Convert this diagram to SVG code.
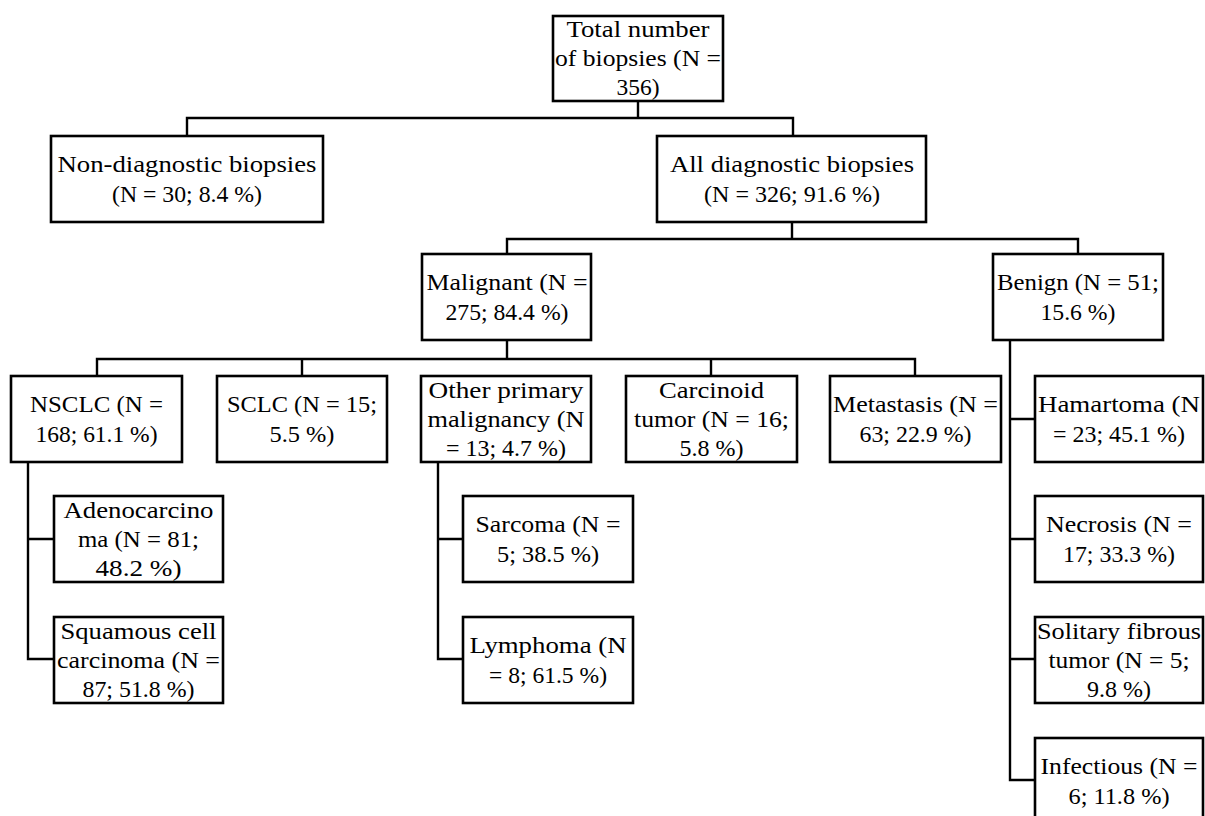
<svg xmlns="http://www.w3.org/2000/svg" width="1205" height="816" viewBox="0 0 1205 816">
<style>
.box{fill:#fff;stroke:#000;stroke-width:2.6}
.con{fill:none;stroke:#000;stroke-width:2.4}
text{font-family:"Liberation Serif","Times New Roman",serif;font-size:23px;fill:#000;text-anchor:middle}
</style>
<rect width="1205" height="816" fill="#fff"/>
<g id="connectors" class="con">
<path d="M638,101 V118 M187,136 V118 H793 V136"/>
<path d="M792,222 V239 M507,254 V239 H1078 V254"/>
<path d="M507,340 V359 M97,376 V359 H915 V376 M302,359 V376 M711,359 V376"/>
<path d="M1010,340 V780 H1035 M1010,419 H1035 M1010,539 H1035 M1010,659 H1035"/>
<path d="M28,462 V659 H54 M28,539 H54"/>
<path d="M438,462 V659 H463 M438,539 H463"/>
</g>
<g id="total"><rect class="box" x="553" y="16" width="170" height="85"/>
<text x="638" y="37" textLength="143" lengthAdjust="spacingAndGlyphs">Total number</text>
<text x="638" y="66" textLength="166" lengthAdjust="spacingAndGlyphs">of biopsies (N =</text>
<text x="638" y="95" textLength="43" lengthAdjust="spacingAndGlyphs">356)</text></g>
<g id="nondiag"><rect class="box" x="51" y="136" width="272" height="86"/>
<text x="187" y="172" textLength="259" lengthAdjust="spacingAndGlyphs">Non-diagnostic biopsies</text>
<text x="187" y="202" textLength="150" lengthAdjust="spacingAndGlyphs">(N = 30; 8.4 %)</text></g>
<g id="alldiag"><rect class="box" x="657" y="136" width="269" height="86"/>
<text x="792" y="172" textLength="244" lengthAdjust="spacingAndGlyphs">All diagnostic biopsies</text>
<text x="792" y="202" textLength="176" lengthAdjust="spacingAndGlyphs">(N = 326; 91.6 %)</text></g>
<g id="malignant"><rect class="box" x="422" y="254" width="169" height="86"/>
<text x="507" y="290" textLength="161" lengthAdjust="spacingAndGlyphs">Malignant (N =</text>
<text x="507" y="320" textLength="123" lengthAdjust="spacingAndGlyphs">275; 84.4 %)</text></g>
<g id="benign"><rect class="box" x="993" y="254" width="170" height="86"/>
<text x="1078" y="290" textLength="162" lengthAdjust="spacingAndGlyphs">Benign (N = 51;</text>
<text x="1078" y="320" textLength="75" lengthAdjust="spacingAndGlyphs">15.6 %)</text></g>
<g id="nsclc"><rect class="box" x="11" y="376" width="171" height="86"/>
<text x="96.5" y="412" textLength="133" lengthAdjust="spacingAndGlyphs">NSCLC (N =</text>
<text x="96.5" y="442" textLength="122" lengthAdjust="spacingAndGlyphs">168; 61.1 %)</text></g>
<g id="sclc"><rect class="box" x="217" y="376" width="170" height="86"/>
<text x="302" y="412" textLength="150" lengthAdjust="spacingAndGlyphs">SCLC (N = 15;</text>
<text x="302" y="442" textLength="65" lengthAdjust="spacingAndGlyphs">5.5 %)</text></g>
<g id="other"><rect class="box" x="421" y="376" width="170" height="86"/>
<text x="506" y="398" textLength="155" lengthAdjust="spacingAndGlyphs">Other primary</text>
<text x="506" y="427" textLength="157" lengthAdjust="spacingAndGlyphs">malignancy (N</text>
<text x="506" y="456" textLength="120" lengthAdjust="spacingAndGlyphs">= 13; 4.7 %)</text></g>
<g id="carcinoid"><rect class="box" x="626" y="376" width="171" height="86"/>
<text x="711.5" y="398" textLength="105" lengthAdjust="spacingAndGlyphs">Carcinoid</text>
<text x="711.5" y="427" textLength="155" lengthAdjust="spacingAndGlyphs">tumor (N = 16;</text>
<text x="711.5" y="456" textLength="64" lengthAdjust="spacingAndGlyphs">5.8 %)</text></g>
<g id="metastasis"><rect class="box" x="830" y="376" width="171" height="86"/>
<text x="915.5" y="412" textLength="165" lengthAdjust="spacingAndGlyphs">Metastasis (N =</text>
<text x="915.5" y="442" textLength="112" lengthAdjust="spacingAndGlyphs">63; 22.9 %)</text></g>
<g id="hamartoma"><rect class="box" x="1035" y="376" width="168" height="86"/>
<text x="1119" y="412" textLength="162" lengthAdjust="spacingAndGlyphs">Hamartoma (N</text>
<text x="1119" y="442" textLength="132" lengthAdjust="spacingAndGlyphs">= 23; 45.1 %)</text></g>
<g id="necrosis"><rect class="box" x="1035" y="496" width="168" height="86"/>
<text x="1119" y="532" textLength="146" lengthAdjust="spacingAndGlyphs">Necrosis (N =</text>
<text x="1119" y="562" textLength="112" lengthAdjust="spacingAndGlyphs">17; 33.3 %)</text></g>
<g id="solitary"><rect class="box" x="1035" y="617" width="168" height="86"/>
<text x="1119" y="639" textLength="164" lengthAdjust="spacingAndGlyphs">Solitary fibrous</text>
<text x="1119" y="668" textLength="141" lengthAdjust="spacingAndGlyphs">tumor (N = 5;</text>
<text x="1119" y="697" textLength="64" lengthAdjust="spacingAndGlyphs">9.8 %)</text></g>
<g id="infectious"><rect class="box" x="1035" y="738" width="168" height="86"/>
<text x="1119" y="774" textLength="157" lengthAdjust="spacingAndGlyphs">Infectious (N =</text>
<text x="1119" y="804" textLength="101" lengthAdjust="spacingAndGlyphs">6; 11.8 %)</text></g>
<g id="adeno"><rect class="box" x="54" y="496" width="169" height="86"/>
<text x="138.5" y="518" textLength="150" lengthAdjust="spacingAndGlyphs">Adenocarcino</text>
<text x="138.5" y="547" textLength="121" lengthAdjust="spacingAndGlyphs">ma (N = 81;</text>
<text x="138.5" y="576" textLength="86" lengthAdjust="spacingAndGlyphs">48.2 %)</text></g>
<g id="squamous"><rect class="box" x="54" y="617" width="169" height="86"/>
<text x="138.5" y="639" textLength="156" lengthAdjust="spacingAndGlyphs">Squamous cell</text>
<text x="138.5" y="668" textLength="163" lengthAdjust="spacingAndGlyphs">carcinoma (N =</text>
<text x="138.5" y="697" textLength="112" lengthAdjust="spacingAndGlyphs">87; 51.8 %)</text></g>
<g id="sarcoma"><rect class="box" x="463" y="496" width="170" height="86"/>
<text x="548" y="532" textLength="145" lengthAdjust="spacingAndGlyphs">Sarcoma (N =</text>
<text x="548" y="562" textLength="102" lengthAdjust="spacingAndGlyphs">5; 38.5 %)</text></g>
<g id="lymphoma"><rect class="box" x="463" y="617" width="170" height="86"/>
<text x="548" y="653" textLength="157" lengthAdjust="spacingAndGlyphs">Lymphoma (N</text>
<text x="548" y="683" textLength="118" lengthAdjust="spacingAndGlyphs">= 8; 61.5 %)</text></g>
</svg>
